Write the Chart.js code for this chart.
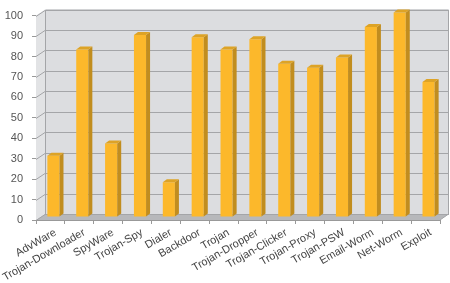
<!DOCTYPE html>
<html>
<head>
<meta charset="utf-8">
<script src="https://cdn.jsdelivr.net/npm/chart.js@4"></script>
<style>
  html, body { margin: 0; padding: 0; background: #fff; }
  #wrap { width: 450px; height: 283px; }
</style>
</head>
<body>
<div id="wrap"><canvas id="chart"></canvas></div>
<script>
// data
const categories = ['AdvWare', 'Trojan-Downloader', 'SpyWare', 'Trojan-Spy', 'Dialer', 'Backdoor', 'Trojan',
  'Trojan-Dropper', 'Trojan-Clicker', 'Trojan-Proxy', 'Trojan-PSW', 'Email-Worm', 'Net-Worm', 'Exploit'];
const values = [30, 82, 36, 89, 17, 88, 82, 87, 75, 73, 78, 93, 100, 66];
const yTicks = [0, 10, 20, 30, 40, 50, 60, 70, 80, 90, 100];

// 3d look
const DEPTH_X = 9, DEPTH_Y = -6;      // wall / floor depth
const SHIFT_X = 3, SHIFT_Y = -3;      // bars sit a bit back from the front edge
const BAR_DX = 4, BAR_DY = -3;        // bar depth

const WALL = '#dcdde0', FLOOR = '#b7b8bb', GRID = '#a4a5a8';

const walls3d = {
  id: 'walls3d',
  beforeDraw(chart) {
    const ctx = chart.ctx, a = chart.chartArea, y = chart.scales.y;
    ctx.save();
    // back wall
    ctx.fillStyle = WALL;
    ctx.fillRect(a.left + DEPTH_X, a.top + DEPTH_Y, a.right - a.left, a.bottom - a.top);
    // left wall
    ctx.fillStyle = '#e2e3e5';
    ctx.beginPath();
    ctx.moveTo(a.left, a.top);
    ctx.lineTo(a.left + DEPTH_X, a.top + DEPTH_Y);
    ctx.lineTo(a.left + DEPTH_X, a.bottom + DEPTH_Y);
    ctx.lineTo(a.left, a.bottom);
    ctx.closePath();
    ctx.fill();
    // floor
    ctx.fillStyle = FLOOR;
    ctx.beginPath();
    ctx.moveTo(a.left, a.bottom);
    ctx.lineTo(a.left + DEPTH_X, a.bottom + DEPTH_Y);
    ctx.lineTo(a.right + DEPTH_X, a.bottom + DEPTH_Y);
    ctx.lineTo(a.right, a.bottom);
    ctx.closePath();
    ctx.fill();
    // grid lines
    ctx.strokeStyle = GRID;
    ctx.lineWidth = 1;
    yTicks.forEach(v => {
      const py = Math.round(y.getPixelForValue(v)) + 0.5;
      ctx.beginPath();
      ctx.moveTo(a.left, py);
      ctx.lineTo(a.left + DEPTH_X, py + DEPTH_Y);
      ctx.lineTo(a.right + DEPTH_X, py + DEPTH_Y);
      ctx.stroke();
    });
    // wall edges
    ctx.beginPath();
    ctx.moveTo(a.left + DEPTH_X + 0.5, a.bottom + DEPTH_Y);
    ctx.lineTo(a.left + DEPTH_X + 0.5, a.top + DEPTH_Y + 0.5);
    ctx.lineTo(a.right + DEPTH_X - 0.5, a.top + DEPTH_Y + 0.5);
    ctx.lineTo(a.right + DEPTH_X - 0.5, a.bottom + DEPTH_Y);
    ctx.lineTo(a.right, a.bottom);
    ctx.stroke();
    ctx.restore();
  },
  beforeDatasetsDraw(chart) {
    chart.ctx.save();
    chart.ctx.translate(SHIFT_X, SHIFT_Y);
  },
  afterDatasetsDraw(chart) {
    const ctx = chart.ctx;
    chart.getDatasetMeta(0).data.forEach(bar => {
      const l = bar.x - bar.width / 2, r = bar.x + bar.width / 2;
      // side
      ctx.fillStyle = '#c18d1f';
      ctx.beginPath();
      ctx.moveTo(r, bar.base);
      ctx.lineTo(r, bar.y);
      ctx.lineTo(r + BAR_DX, bar.y + BAR_DY);
      ctx.lineTo(r + BAR_DX, bar.base + BAR_DY);
      ctx.closePath();
      ctx.fill();
      // top
      ctx.fillStyle = '#dda326';
      ctx.beginPath();
      ctx.moveTo(l, bar.y);
      ctx.lineTo(l + BAR_DX, bar.y + BAR_DY);
      ctx.lineTo(r + BAR_DX, bar.y + BAR_DY);
      ctx.lineTo(r, bar.y);
      ctx.closePath();
      ctx.fill();
    });
    ctx.restore();
  }
};

new Chart(document.getElementById('chart'), {
  type: 'bar',
  data: {
    labels: categories,
    datasets: [{
      data: values,
      backgroundColor: '#fcb82b',
      borderWidth: 0,
      categoryPercentage: 1,
      barPercentage: 0.42,
      clip: false
    }]
  },
  options: {
    responsive: true,
    maintainAspectRatio: false,
    animation: false,
    layout: { padding: { top: 7, right: 10, left: 0, bottom: 0 } },
    plugins: { legend: { display: false }, tooltip: { enabled: false } },
    scales: {
      x: {
        afterFit(s) { s.height = 63; },
        grid: { drawOnChartArea: false, tickLength: 4, color: '#999' },
        border: { display: true, color: '#999' },
        ticks: {
          autoSkip: false, maxRotation: 30, minRotation: 30, padding: 2, labelOffset: 5,
          color: '#444', font: { family: 'Liberation Sans', size: 11 }
        }
      },
      y: {
        min: 0, max: 100,
        afterFit(s) { s.width = 36; },
        afterBuildTicks(s) { s.ticks = yTicks.map(v => ({ value: v })); },
        grid: { drawOnChartArea: false, tickLength: 4, color: '#999' },
        border: { display: false },
        ticks: { padding: 9, color: '#555', font: { family: 'Liberation Sans', size: 11 } }
      }
    }
  },
  plugins: [walls3d]
});
</script>
</body>
</html>
